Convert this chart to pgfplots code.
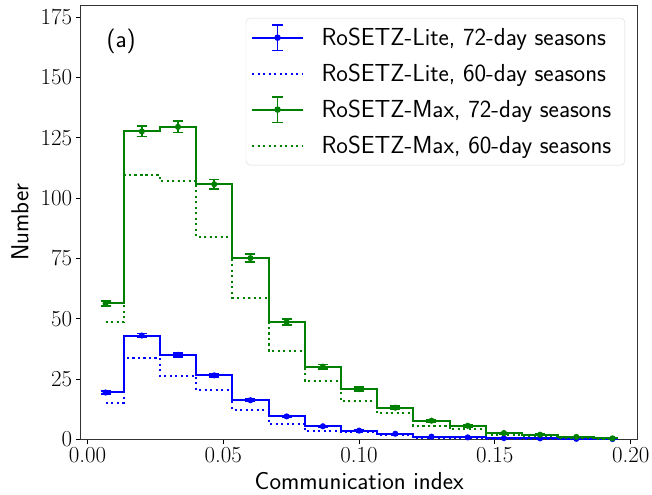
\documentclass[border=0pt]{standalone}
\usepackage{fontspec}
\usepackage{pgfplots}
\pgfplotsset{compat=1.18}
\definecolor{mblue}{RGB}{0,0,255}
\definecolor{mgreen}{RGB}{0,128,0}
\newcommand{\fs}{\fontsize{23}{27}\selectfont}
\newcommand{\fss}{\fontsize{24.7}{29}\selectfont}

\pgfplotstableread{
x y e
0.006667 19.4 0.6
0.020000 43.0 0.9
0.033333 35.0 0.8
0.046667 26.5 0.7
0.060000 16.2 0.5
0.073333 9.5 0.4
0.086667 5.4 0.3
0.100000 3.6 0.25
0.113333 2.3 0.2
0.126667 1.1 0.15
0.140000 0.8 0.1
0.153333 0.5 0.1
0.166667 0.4 0.1
0.180000 0.2 0.05
0.193333 0.1 0.05
}\liteA
\pgfplotstableread{
x y
0.006667 15.2
0.020000 33.7
0.033333 26.4
0.046667 20.3
0.060000 12.3
0.073333 6.5
0.086667 3.6
0.100000 3.1
0.113333 1.7
0.126667 0.7
0.140000 0.5
0.153333 0.3
0.166667 0.2
0.180000 0.1
0.193333 0.05
}\liteB
\pgfplotstableread{
x y e
0.006667 56.3 1.0
0.020000 127.6 2.2
0.033333 129.5 2.4
0.046667 105.7 2.0
0.060000 75.1 1.6
0.073333 48.6 1.3
0.086667 30.1 1.0
0.100000 20.8 0.8
0.113333 13.1 0.7
0.126667 7.7 0.5
0.140000 5.6 0.4
0.153333 2.6 0.3
0.166667 1.9 0.3
0.180000 1.0 0.2
0.193333 0.4 0.1
}\maxA
\pgfplotstableread{
x y
0.006667 48.5
0.020000 109.5
0.033333 107.0
0.046667 83.7
0.060000 58.7
0.073333 36.7
0.086667 24.3
0.100000 15.7
0.113333 10.8
0.126667 5.5
0.140000 4.1
0.153333 1.8
0.166667 1.4
0.180000 0.7
0.193333 0.3
}\maxB

\pgfplotsset{
  errleg/.style={legend image code/.code={
    \draw[#1,line width=2bp] (0bp,0bp) -- (51bp,0bp);
    \draw[#1,line width=1.5bp] (25.5bp,-12.8bp) -- (25.5bp,12.8bp)
      (20.2bp,-12.8bp) -- (30.8bp,-12.8bp) (20.2bp,12.8bp) -- (30.8bp,12.8bp);
    \fill[#1] (25.5bp,0bp) circle (2.2bp);
    \path (60bp,0bp);
  }},
  dotleg/.style={legend image code/.code={
    \draw[#1,line width=2bp,dash pattern=on 2.1bp off 3.4bp] (0bp,0bp) -- (51bp,0bp);
    \path (60bp,0bp);
  }},
}

\begin{document}
\begin{tikzpicture}
\begin{axis}[name=ax,
  scale only axis, width=557bp, height=434.3bp,
  xmin=-0.0025, xmax=0.2026, ymin=0, ymax=180,
  xtick={0,0.05,0.1,0.15,0.2}, ytick={0,25,...,175},
  /pgf/number format/assume math mode=true,
  xticklabel style={/pgf/number format/.cd, fixed, fixed zerofill, precision=2, assume math mode=true},
  scaled x ticks=false,
  tick align=outside, xtick pos=left, ytick pos=left,
  major tick length=5bp,
  tick style={black, line width=0.8bp},
  axis line style={black!80, line width=0.9bp},
  tick label style={font=\rmfamily\fs},
  every axis x label/.style={at={(axis description cs:0.5,0)}, anchor=center, yshift=-41.7bp},
  every axis y label/.style={at={(axis description cs:-0.109,0.5)}, rotate=90, anchor=center},
  label style={font=\sffamily\fss},
  xlabel={Communication index}, ylabel={Number},
  legend cell align=left,
  legend style={at={(1,1)}, anchor=north east, xshift=-12.7bp, yshift=-13bp,
    font=\sffamily\fss, draw=black!15, rounded corners=4bp, fill=white, fill opacity=0.8, text opacity=1,
    inner xsep=5bp, inner ysep=1.5bp, row sep=0bp,
    nodes={inner sep=8.5bp}},
]
\addplot[mblue, line width=2bp, const plot mark mid, mark=*, mark size=2bp,
  errleg=mblue,
  error bars/.cd, y dir=both, y explicit,
  error bar style={line width=1.5bp, mblue},
  error mark options={rotate=90, mark size=5bp, line width=1.5bp, mblue}]
  table[x=x, y=y, y error=e] {\liteA};
\addlegendentry{RoSETZ-Lite, 72-day seasons}
\addplot[mblue, line width=2bp, const plot mark mid, dash pattern=on 2.1bp off 3.4bp, dotleg=mblue]
  table[x=x, y=y] {\liteB};
\addlegendentry{RoSETZ-Lite, 60-day seasons}
\addplot[mgreen, line width=2bp, const plot mark mid, mark=*, mark size=2bp,
  errleg=mgreen,
  error bars/.cd, y dir=both, y explicit,
  error bar style={line width=1.5bp, mgreen},
  error mark options={rotate=90, mark size=5bp, line width=1.5bp, mgreen}]
  table[x=x, y=y, y error=e] {\maxA};
\addlegendentry{RoSETZ-Max, 72-day seasons}
\addplot[mgreen, line width=2bp, const plot mark mid, dash pattern=on 2.1bp off 3.4bp, dotleg=mgreen]
  table[x=x, y=y] {\maxB};
\addlegendentry{RoSETZ-Max, 60-day seasons}
\node[font=\sffamily\fss] at (axis cs:0.0124,164.8) {(a)};
\end{axis}
\pgfresetboundingbox
\path ([xshift=-80.7bp,yshift=-55.7bp]ax.south west) rectangle ([xshift=14.3bp,yshift=5bp]ax.north east);
\end{tikzpicture}
\end{document}
